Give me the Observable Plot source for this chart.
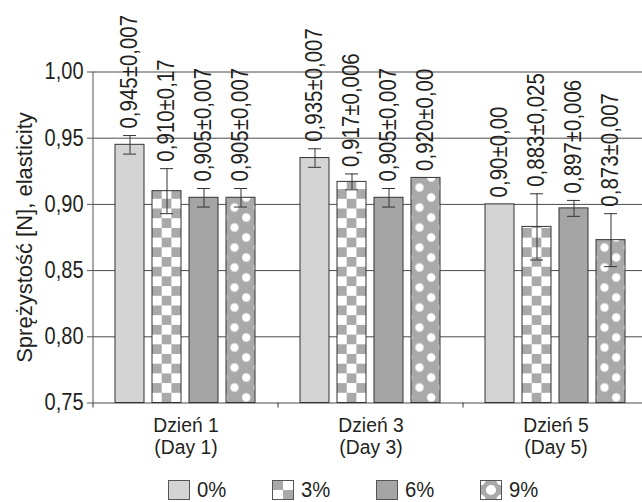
<!DOCTYPE html>
<html><head><meta charset="utf-8">
<script src="https://cdn.jsdelivr.net/npm/d3@7"></script>
<script src="https://cdn.jsdelivr.net/npm/@observablehq/plot@0.6"></script>
<style>
html,body{margin:0;padding:0;background:#fff;overflow:hidden;width:642px;height:502px}
body{font-family:"Liberation Sans",Arial,sans-serif;color:#231f20}
#chart svg{max-width:none !important}
#legend{display:flex;padding-left:168px;margin-top:15px;height:20px}
.item{width:104px;display:flex;align-items:center;flex:none}
.item svg{flex:none;display:block}
.item span{font-size:22px;margin-left:7px;line-height:20px;display:inline-block;transform:scaleX(0.92);transform-origin:left center}
</style></head><body>
<svg width="0" height="0" style="position:absolute"><defs id="defs"></defs></svg>
<div id="chart"></div>
<div id="legend"></div>
<script>
// ---- data ----
const days = ["Dzień 1\n(Day 1)", "Dzień 3\n(Day 3)", "Dzień 5\n(Day 5)"];
const concs = ["0%", "3%", "6%", "9%"];
const meansDay1 = [0.945, 0.910, 0.905, 0.905];
const meansDay3 = [0.935, 0.917, 0.905, 0.920];
const meansDay5 = [0.900, 0.883, 0.897, 0.873];
const errDay1 = [0.007, 0.017, 0.007, 0.007];
const errDay3 = [0.007, 0.006, 0.007, 0];
const errDay5 = [0, 0.025, 0.006, 0.020];
const labelsDay1 = ["0,945±0,007", "0,910±0,17", "0,905±0,007", "0,905±0,007"];
const labelsDay3 = ["0,935±0,007", "0,917±0,006", "0,905±0,007", "0,920±0,00"];
const labelsDay5 = ["0,90±0,00", "0,883±0,025", "0,897±0,006", "0,873±0,007"];
const yTicks = [0.75, 0.80, 0.85, 0.90, 0.95, 1.00];
const yLabel = "Sprężystość [N], elasticity";

const means = [meansDay1, meansDay3, meansDay5];
const errs = [errDay1, errDay3, errDay5];
const labels = [labelsDay1, labelsDay3, labelsDay5];
const data = days.flatMap((day, i) => concs.map((conc, j) => ({
  day, conc, value: means[i][j], err: errs[i][j], label: labels[i][j]
})));
const errData = data.filter(d => d.err > 0);

// ---- patterns ----
const GRAY = "#a9a9a9";
const defs = d3.select("#defs");
const chk = defs.append("pattern").attr("id", "checker").attr("patternUnits", "userSpaceOnUse")
  .attr("width", 19.4).attr("height", 19.4);
chk.append("rect").attr("width", 19.4).attr("height", 19.4).attr("fill", "#fff");
chk.append("rect").attr("width", 9.7).attr("height", 9.7).attr("fill", GRAY);
chk.append("rect").attr("x", 9.7).attr("y", 9.7).attr("width", 9.7).attr("height", 9.7).attr("fill", GRAY);
const dots = defs.append("pattern").attr("id", "dots").attr("patternUnits", "userSpaceOnUse")
  .attr("width", 23.4).attr("height", 20);
dots.append("rect").attr("width", 23.4).attr("height", 20).attr("fill", GRAY);
dots.append("circle").attr("cx", 8).attr("cy", 5).attr("r", 4.2).attr("fill", "#fff");
dots.append("circle").attr("cx", 19.7).attr("cy", 15).attr("r", 4.2).attr("fill", "#fff");
dots.append("circle").attr("cx", -3.7).attr("cy", 15).attr("r", 4.2).attr("fill", "#fff");

const fills = ["#d4d4d4", "url(#checker)", "#a5a5a5", "url(#dots)"];
const FONT = '"Liberation Sans",Arial,sans-serif';

const chart = Plot.plot({
  width: 649, height: 465,
  marginLeft: 92, marginRight: 0, marginTop: 71.5, marginBottom: 62.5,
  style: {fontFamily: FONT, fontSize: "23px", color: "#231f20", background: "transparent", overflow: "visible", maxWidth: "none"},
  fx: {domain: days, padding: 0, label: null},
  x: {domain: concs, paddingInner: 0.21, paddingOuter: 0.58, axis: null},
  y: {domain: [0.75, 1.0]},
  color: {domain: concs, range: fills},
  marks: [
    Plot.ruleY(yTicks, {stroke: "#4a4a4a", strokeWidth: 1}),
    Plot.barY(data, {fx: "day", x: "conc", y1: 0.75, y2: "value", fill: "conc", stroke: "#333", strokeWidth: 1}),
    Plot.ruleX(errData, {fx: "day", x: "conc", y1: d => d.value - d.err, y2: d => d.value + d.err, stroke: "#333"}),
    Plot.tickY(errData, {fx: "day", x: "conc", y: d => d.value - d.err, stroke: "#333", insetLeft: 8, insetRight: 8}),
    Plot.tickY(errData, {fx: "day", x: "conc", y: d => d.value + d.err, stroke: "#333", insetLeft: 8, insetRight: 8}),
    Plot.text(data, {fx: "day", x: "conc", y: d => d.value + d.err, text: "label", rotate: -90,
      textAnchor: "start", lineAnchor: "middle", dy: -7, fontSize: 23, fill: "#231f20", className: "vlabel"}),
    Plot.axisY({ticks: yTicks, tickFormat: d => d.toFixed(2).replace(".", ","), tickSize: 6, tickPadding: 4,
      stroke: "#555", label: null, fontSize: 23, className: "ytick"}),
    Plot.text([yLabel], {fx: () => days[0], frameAnchor: "left", rotate: -90, dx: -69,
      textAnchor: "middle", lineAnchor: "middle", fontSize: 22, fill: "#231f20"}),
    Plot.axisFx({anchor: "bottom", tickSize: 0, tickPadding: 13, label: null, lineHeight: 1.05, fontSize: 21, className: "fxtick"})
  ]
});
document.getElementById("chart").appendChild(chart);

// condensed look: compress texts along their reading direction
function condense(sel, s) {
  chart.querySelectorAll(sel).forEach(t => {
    let tr = t.getAttribute("transform") || "";
    const x = t.getAttribute("x");
    if (x != null && isFinite(+x) && +x !== 0) {
      tr += ` translate(${+x},0)`;
      t.removeAttribute("x");
    }
    t.setAttribute("transform", (tr + ` scale(${s},1)`).trim());
  });
}
condense(".vlabel text", 0.89);
condense(".ytick text", 0.87);
condense(".fxtick text", 0.92);

// axis line and category boundary ticks, from the plot's own scales
const fxS = chart.scale("fx"), yS = chart.scale("y");
const svg = d3.select(chart);
const y0 = yS.apply(0.75), y1 = yS.apply(1.0);
const left = fxS.apply(days[0]);
svg.append("line").attr("x1", left).attr("x2", left).attr("y1", y1).attr("y2", y0).attr("stroke", "#555");
days.forEach(d => {
  const x = fxS.apply(d);
  svg.append("line").attr("x1", x).attr("x2", x).attr("y1", y0).attr("y2", y0 + 5).attr("stroke", "#333");
});
// align patterns with the bars
const rects = chart.querySelectorAll('g[aria-label="bar"] rect');
for (const r of rects) {
  const f = r.getAttribute("fill") || "";
  if (f.includes("checker")) d3.select("#checker").attr("x", r.getAttribute("x")).attr("y", y0);
  if (f.includes("dots")) d3.select("#dots").attr("x", +r.getAttribute("x") + 0.5).attr("y", y0);
}

// ---- legend ----
const legend = d3.select("#legend");
concs.forEach((c, i) => {
  const it = legend.append("div").attr("class", "item");
  const s = it.append("svg").attr("width", 22).attr("height", 20);
  const g = s.append("g").attr("transform", "translate(0.5,0.5)");
  const w = 21, h = 19;
  if (i === 0 || i === 2) {
    g.append("rect").attr("width", w).attr("height", h).attr("fill", fills[i]);
  } else if (i === 1) {
    g.append("rect").attr("width", w).attr("height", h).attr("fill", "#fff");
    g.append("rect").attr("width", w / 2).attr("height", h / 2).attr("fill", GRAY);
    g.append("rect").attr("x", w / 2).attr("y", h / 2).attr("width", w / 2).attr("height", h / 2).attr("fill", GRAY);
  } else {
    g.append("rect").attr("width", w).attr("height", h).attr("fill", GRAY);
    const cp = s.append("clipPath").attr("id", "lc");
    cp.append("rect").attr("width", w).attr("height", h);
    const dg = g.append("g").attr("clip-path", "url(#lc)");
    [[w / 2, h / 2], [0, 0], [w, 0], [0, h], [w, h]].forEach(([cx, cy]) =>
      dg.append("circle").attr("cx", cx).attr("cy", cy).attr("r", 5).attr("fill", "#fff"));
  }
  g.append("rect").attr("width", w).attr("height", h).attr("fill", "none").attr("stroke", "#555");
  it.append("span").text(c);
});
</script>
</body></html>
